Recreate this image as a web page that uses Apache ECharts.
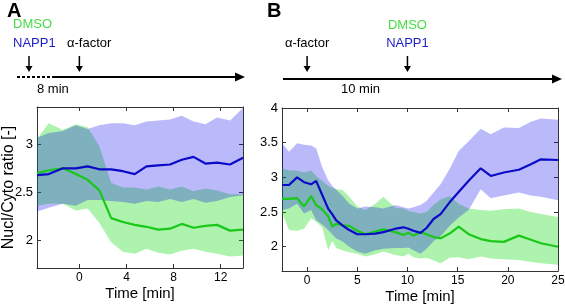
<!DOCTYPE html>
<html>
<head>
<meta charset="utf-8">
<script src="https://cdn.jsdelivr.net/npm/echarts@6/dist/echarts.min.js"></script>
<style>
    html, body { margin: 0; padding: 0; background: #fff; }
    #chart-container { width: 565px; height: 304px; }
</style>
</head>
<body>
<div id="chart-container"></div>
<script>
// panel A
var timeA = [-3.6, -2.6, -1.4, -0.3, 0.7, 1.7, 2.7, 3.7, 4.7, 5.7, 6.7, 7.7, 8.7, 9.7, 10.7, 11.7, 12.8, 13.9];
var dmsoMeanA = [2.70, 2.73, 2.75, 2.69, 2.63, 2.52, 2.23, 2.19, 2.16, 2.14, 2.11, 2.12, 2.17, 2.13, 2.15, 2.16, 2.10, 2.11];
var dmsoLowA = [2.36, 2.38, 2.38, 2.31, 2.33, 2.18, 1.98, 1.88, 1.86, 1.91, 1.87, 1.85, 1.89, 1.91, 1.88, 1.86, 1.83, 1.84];
var dmsoHighA = [3.06, 3.22, 3.15, 3.21, 3.18, 2.98, 2.60, 2.55, 2.55, 2.53, 2.56, 2.53, 2.56, 2.51, 2.54, 2.52, 2.48, 2.48];
var nappMeanA = [2.68, 2.69, 2.75, 2.75, 2.77, 2.74, 2.74, 2.72, 2.69, 2.77, 2.78, 2.79, 2.84, 2.87, 2.80, 2.81, 2.79, 2.86];
var nappLowA = [2.30, 2.34, 2.38, 2.36, 2.42, 2.42, 2.41, 2.40, 2.38, 2.41, 2.40, 2.43, 2.40, 2.43, 2.39, 2.41, 2.45, 2.47];
var nappHighA = [3.07, 3.12, 3.14, 3.20, 3.16, 3.20, 3.22, 3.22, 3.20, 3.24, 3.25, 3.26, 3.30, 3.24, 3.21, 3.28, 3.25, 3.38];
var xTicksA = [0, 4, 8, 12];
var yTicksA = [2, 2.5, 3];

// panel B
var timeB = [-2.5, -1.8, -1.0, -0.3, 0.4, 0.9, 1.5, 2.1, 2.5, 2.9, 3.5, 4.2, 5.0, 5.8, 6.8, 7.6, 8.8, 9.6, 10.1, 10.6, 11.3, 11.9, 12.6, 13.3, 14.2, 15.1, 16.1, 17.3, 18.3, 19.6, 21.1, 22.3, 23.3, 25.0];
var dmsoMeanB = [2.69, 2.69, 2.70, 2.58, 2.73, 2.60, 2.54, 2.44, 2.29, 2.33, 2.31, 2.30, 2.23, 2.18, 2.22, 2.25, 2.21, 2.17, 2.20, 2.16, 2.21, 2.18, 2.14, 2.12, 2.19, 2.29, 2.18, 2.11, 2.08, 2.07, 2.16, 2.10, 2.05, 2.00];
var dmsoLowB = [2.49, 2.24, 2.23, 2.26, 2.41, 2.36, 2.28, 1.95, 2.08, 1.98, 1.95, 1.92, 1.90, 1.86, 1.89, 1.93, 1.88, 1.86, 1.90, 1.85, 1.83, 1.84, 1.80, 1.76, 1.84, 1.85, 1.82, 1.86, 1.83, 1.82, 1.81, 1.78, 1.76, 1.74];
var dmsoHighB = [3.13, 3.10, 3.10, 3.07, 3.10, 3.02, 2.95, 2.88, 2.85, 2.83, 2.82, 2.72, 2.58, 2.53, 2.62, 2.72, 2.56, 2.55, 2.52, 2.50, 2.48, 2.50, 2.60, 2.68, 2.73, 2.62, 2.55, 2.53, 2.52, 2.54, 2.55, 2.50, 2.47, 2.43];
var nappMeanB = [2.89, 2.89, 3.00, 2.93, 2.90, 2.95, 2.75, 2.55, 2.47, 2.38, 2.31, 2.24, 2.18, 2.18, 2.19, 2.21, 2.26, 2.28, 2.26, 2.23, 2.20, 2.27, 2.40, 2.47, 2.64, 2.79, 2.95, 3.13, 3.02, 3.07, 3.11, 3.19, 3.26, 3.25];
var nappLowB = [2.53, 2.55, 2.62, 2.48, 2.53, 2.38, 2.32, 2.24, 2.18, 2.12, 2.08, 2.00, 1.93, 1.90, 1.95, 1.97, 1.98, 1.98, 1.99, 1.95, 1.90, 1.97, 2.08, 2.15, 2.30, 2.42, 2.53, 2.83, 2.70, 2.74, 2.78, 2.74, 2.72, 2.67];
var nappHighB = [3.49, 3.37, 3.49, 3.47, 3.46, 3.42, 3.15, 2.96, 2.88, 2.82, 2.74, 2.62, 2.55, 2.58, 2.57, 2.55, 2.60, 2.57, 2.55, 2.57, 2.60, 2.66, 2.78, 2.90, 3.12, 3.38, 3.52, 3.70, 3.62, 3.72, 3.71, 3.80, 3.85, 3.83];
var xTicksB = [0, 5, 10, 15, 20, 25];
var yTicksB = [2, 2.5, 3, 3.5, 4];

var FONT = 'Liberation Sans';
var GREEN = 'rgb(25,200,25)';
var BLUE = 'rgb(10,10,200)';
var GREEN_BAND = 'rgba(0,215,0,0.32)';
var BLUE_BAND = 'rgba(0,0,235,0.27)';
var AXIS = '#333';

function pairs(t, v) {
    return t.map(function (x, i) { return [x, v[i]]; });
}

// shaded spread between low and high, drawn as one polygon through the axes
function band(ax, t, low, high, color) {
    return {
        type: 'custom', xAxisIndex: ax, yAxisIndex: ax,
        data: pairs(t, high), silent: true, clip: true,
        renderItem: function (params, api) {
            if (params.dataIndex !== 0) return null;
            var pts = [];
            for (var i = 0; i < t.length; i++) pts.push(api.coord([t[i], high[i]]));
            for (var j = t.length - 1; j >= 0; j--) pts.push(api.coord([t[j], low[j]]));
            return { type: 'polygon', shape: { points: pts }, style: { fill: color } };
        }
    };
}

function meanLine(ax, t, v, color) {
    return {
        type: 'line', xAxisIndex: ax, yAxisIndex: ax,
        data: pairs(t, v), symbol: 'none', silent: true,
        lineStyle: { color: color, width: 2.2 }
    };
}

function xAxis(grid, min, max, ticks, pos) {
    var main = pos === 'bottom';
    return {
        type: 'value', gridIndex: grid, position: pos, min: min, max: max,
        name: main ? 'Time [min]' : '',
        nameLocation: 'middle', nameGap: 18, nameMoveOverlap: false,
        nameTextStyle: { fontFamily: FONT, fontSize: 15, color: '#000' },
        axisLine: { show: true, onZero: false, lineStyle: { color: AXIS, width: 1 } },
        axisTick: { show: true, inside: true, length: 4, customValues: ticks, lineStyle: { color: AXIS } },
        axisLabel: { show: main, customValues: ticks, margin: 4, fontFamily: FONT, fontSize: 12, color: '#000' },
        splitLine: { show: false }
    };
}

function yAxis(grid, min, max, ticks, pos, name) {
    var main = pos === 'left';
    return {
        type: 'value', gridIndex: grid, position: pos, min: min, max: max,
        name: main ? name : '',
        nameLocation: 'middle', nameGap: 20, nameRotate: 90, nameMoveOverlap: false,
        nameTextStyle: { fontFamily: FONT, fontSize: 16, color: '#000' },
        axisLine: { show: true, onZero: false, lineStyle: { color: AXIS, width: 1 } },
        axisTick: { show: true, inside: true, length: 4, customValues: ticks, lineStyle: { color: AXIS } },
        axisLabel: { show: main, customValues: ticks, margin: 4, fontFamily: FONT, fontSize: 13, color: '#000' },
        splitLine: { show: false }
    };
}

var dom = document.getElementById('chart-container');
var myChart = echarts.init(dom, null, { renderer: 'canvas' });

var option = {
    animation: false,
    backgroundColor: '#fff',
    grid: [
        { left: 37, top: 107, width: 206, height: 161, outerBoundsMode: 'none', containLabel: false },
        { left: 282, top: 108, width: 276, height: 163, outerBoundsMode: 'none', containLabel: false }
    ],
    xAxis: [
        xAxis(0, -3.6, 13.9, xTicksA, 'bottom'),
        xAxis(0, -3.6, 13.9, xTicksA, 'top'),
        xAxis(1, -2.5, 25, xTicksB, 'bottom'),
        xAxis(1, -2.5, 25, xTicksB, 'top')
    ],
    yAxis: [
        yAxis(0, 1.71, 3.39, yTicksA, 'left', 'Nucl/Cyto ratio [-]'),
        yAxis(0, 1.71, 3.39, yTicksA, 'right'),
        yAxis(1, 1.65, 4, yTicksB, 'left', ''),
        yAxis(1, 1.65, 4, yTicksB, 'right')
    ],
    series: [
        band(0, timeA, dmsoLowA, dmsoHighA, GREEN_BAND),
        meanLine(0, timeA, dmsoMeanA, GREEN),
        band(0, timeA, nappLowA, nappHighA, BLUE_BAND),
        meanLine(0, timeA, nappMeanA, BLUE),
        band(2, timeB, dmsoLowB, dmsoHighB, GREEN_BAND),
        meanLine(2, timeB, dmsoMeanB, GREEN),
        band(2, timeB, nappLowB, nappHighB, BLUE_BAND),
        meanLine(2, timeB, nappMeanB, BLUE)
    ]
};

myChart.setOption(option);

// timeline sketches above the plots
function label(text, x, y, color, align, size, bold) {
    return {
        type: 'text', x: x, y: y,
        style: {
            text: text, fill: color || '#000', font: (bold ? 'bold ' : '') + (size || 13) + 'px "' + FONT + '"',
            align: align || 'left', verticalAlign: 'middle'
        }
    };
}

function downArrow(x, y0, y1) {
    return [
        { type: 'line', shape: { x1: x, y1: y0, x2: x, y2: y1 - 4 }, style: { stroke: '#000', lineWidth: 1.5 } },
        { type: 'polygon', shape: { points: [[x - 3.5, y1 - 6], [x + 3.5, y1 - 6], [x, y1]] }, style: { fill: '#000' } }
    ];
}

function timeline(x0, x1, y, dashEnd) {
    var items = [];
    if (dashEnd) {
        items.push({ type: 'line', shape: { x1: x0, y1: y, x2: dashEnd, y2: y }, style: { stroke: '#000', lineWidth: 2, lineDash: [3, 2] } });
        x0 = dashEnd;
    }
    items.push({ type: 'line', shape: { x1: x0, y1: y, x2: x1 - 8, y2: y }, style: { stroke: '#000', lineWidth: 2 } });
    items.push({ type: 'polygon', shape: { points: [[x1 - 10, y - 4.5], [x1, y], [x1 - 10, y + 4.5]] }, style: { fill: '#000' } });
    return items;
}

var xa0 = myChart.convertToPixel({ xAxisIndex: 0 }, 0);
var xb0 = myChart.convertToPixel({ xAxisIndex: 2 }, 0);
var xb10 = myChart.convertToPixel({ xAxisIndex: 2 }, 10);

var graphics = [].concat(
    [label('A', 7, 11, '#000', 'left', 20, true),
     label('DMSO', 13, 24, 'rgb(70,220,70)'),
     label('NAPP1', 13, 43, 'rgb(30,30,200)'),
     label('\u03b1-factor', 67, 43),
     label('8 min', 37, 89)],
    downArrow(29, 56, 72),
    downArrow(xa0, 56, 72),
    timeline(17, 245, 77, 53),
    [label('B', 267, 11, '#000', 'left', 20, true),
     label('\u03b1-factor', xb0, 43, '#000', 'center'),
     label('DMSO', xb10, 25, 'rgb(70,220,70)', 'center'),
     label('NAPP1', xb10, 43, 'rgb(30,30,200)', 'center'),
     label('10 min', 341, 89)],
    downArrow(xb0, 56, 72),
    downArrow(xb10, 56, 72),
    timeline(283, 562, 79)
);

myChart.setOption({ graphic: graphics });

window.addEventListener('resize', myChart.resize);
</script>
</body>
</html>
